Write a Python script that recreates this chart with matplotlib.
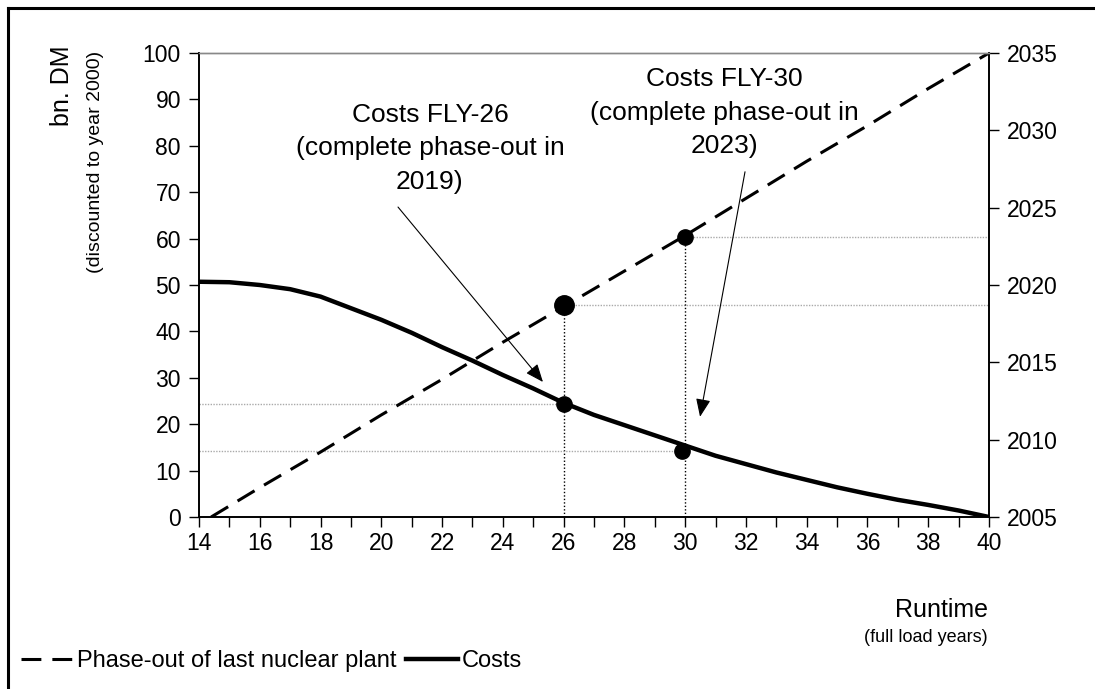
import matplotlib
matplotlib.use("Agg")
import matplotlib.pyplot as plt
from matplotlib.lines import Line2D
from matplotlib.ticker import MultipleLocator

plt.rcParams["font.family"] = ["Liberation Sans", "DejaVu Sans"]

# runtime (full load years) vs. discounted costs (bn. DM)
runtime = [14, 15, 16, 17, 18, 19, 20, 21, 22, 23, 24, 25, 26, 27,
           28, 29, 30, 31, 32, 33, 34, 35, 36, 37, 38, 39, 40]
costs = [50.7, 50.6, 50.0, 49.1, 47.5, 45.0, 42.5, 39.7, 36.6, 33.7, 30.6,
         27.7, 24.6, 22.0, 19.8, 17.6, 15.4, 13.2, 11.4, 9.6, 8.0, 6.4,
         5.0, 3.7, 2.6, 1.4, 0.0]

# runtime vs. year of phase-out of the last nuclear plant
phase_runtime = [14.4, 16, 18, 20, 22, 24, 26, 28, 30, 32, 34, 36, 38, 40]
phase_year = [2005.0, 2006.9, 2009.2, 2011.6, 2013.9, 2016.3, 2018.6,
              2020.9, 2023.2, 2025.6, 2028.0, 2030.3, 2032.7, 2035.0]

# highlighted cases
fly_runtime = [26, 30]
fly_cost = [24.4, 14.2]
fly_year = [2018.7, 2023.1]

YEAR0, YEAR1 = 2005, 2035


def year_to_left(y):
    return (y - YEAR0) / (YEAR1 - YEAR0) * 100


fig = plt.figure(figsize=(10.95, 6.89), dpi=100)
ax = fig.add_axes([199 / 1095, 1 - 517 / 689, 790 / 1095, 464 / 689])
ax2 = ax.twinx()

ax.set_xlim(14, 40)
ax.set_ylim(0, 100)
ax2.set_ylim(YEAR0, YEAR1)

phase_left = [year_to_left(y) for y in phase_year]
(l_phase,) = ax.plot(phase_runtime, phase_left, color="black", lw=2.2,
                     dashes=(6.5, 3.6), solid_capstyle="butt")
(l_cost,) = ax.plot(runtime, costs, color="black", lw=3.2,
                    solid_joinstyle="round")

dot = dict(color="#aaaaaa", lw=1.0, ls=(0, (1, 1)), zorder=1)
for r, c, y in zip(fly_runtime, fly_cost, fly_year):
    yl = year_to_left(y)
    ax.plot([14, r], [c, c], **dot)
    ax.plot([r, 40], [yl, yl], **dot)
    ax.plot([r, r], [0, yl], color="black", lw=1.0, ls=(0, (1, 1.5)), zorder=1)

ax.plot([fly_runtime[0]], [year_to_left(fly_year[0])], "o", color="black",
        ms=14, zorder=5)
ax.plot([fly_runtime[1]], [year_to_left(fly_year[1])], "o", color="black",
        ms=11, zorder=5)
ax.plot([fly_runtime[0]], [fly_cost[0]], "o", color="black", ms=11, zorder=5)
ax.plot([fly_runtime[1] - 0.1], [fly_cost[1]], "o", color="black", ms=11,
        zorder=5)

arrow = dict(arrowstyle="-|>,head_length=1.1,head_width=0.45", color="black",
             lw=0.8, shrinkA=0, shrinkB=0)
ax.annotate("", xy=(25.32, 29.1), xytext=(20.55, 66.8), arrowprops=arrow)
ax.annotate("", xy=(30.49, 21.6), xytext=(31.97, 74.4), arrowprops=arrow)
ax.text(21.6, 79.5, "Costs FLY-26\n(complete phase-out in\n2019)",
        ha="center", va="center", fontsize=19, linespacing=1.5)
ax.text(31.3, 87.1, "Costs FLY-30\n(complete phase-out in\n2023)",
        ha="center", va="center", fontsize=19, linespacing=1.5)

ax.xaxis.set_major_locator(MultipleLocator(2))
ax.xaxis.set_minor_locator(MultipleLocator(1))
ax.yaxis.set_major_locator(MultipleLocator(10))
ax2.yaxis.set_major_locator(MultipleLocator(5))
ax.tick_params(axis="both", which="both", direction="out", length=7,
               width=1, labelsize=16.5, color="black")
ax.tick_params(axis="x", pad=4)
ax.tick_params(axis="y", pad=6)
ax2.tick_params(axis="y", direction="out", length=7, width=1, labelsize=16.5,
                pad=6)

for a in (ax, ax2):
    a.spines["top"].set_color("#888888")
    a.spines["top"].set_linewidth(1)
    for s in ("left", "right", "bottom"):
        a.spines[s].set_linewidth(1.2)

fig.text(62 / 1095, 1 - 86 / 689, "bn. DM", rotation=90, ha="center",
         va="center", fontsize=18)
fig.text(95 / 1095, 1 - 162 / 689, "(discounted to year 2000)", rotation=90,
         ha="center", va="center", fontsize=14)
fig.text(988 / 1095, 1 - 610 / 689, "Runtime", ha="right", va="center",
         fontsize=18)
fig.text(988 / 1095, 1 - 638 / 689, "(full load years)", ha="right",
         va="center", fontsize=13)

fig.legend([l_phase, l_cost], ["Phase-out of last nuclear plant", "Costs"],
           loc="center left", bbox_to_anchor=(12 / 1095, 1 - 661 / 689),
           ncol=2, frameon=False, fontsize=17, handlelength=2.2,
           handletextpad=0.15, columnspacing=0.4, borderaxespad=0)

# outer frame (left and top edges)
fig.add_artist(Line2D([8 / 1095, 8 / 1095], [0, 1 - 8 / 689],
                      transform=fig.transFigure, color="black", lw=2.2))
fig.add_artist(Line2D([8 / 1095, 1], [1 - 8 / 689, 1 - 8 / 689],
                      transform=fig.transFigure, color="black", lw=2.2))

fig.savefig("out.png", dpi=100)
